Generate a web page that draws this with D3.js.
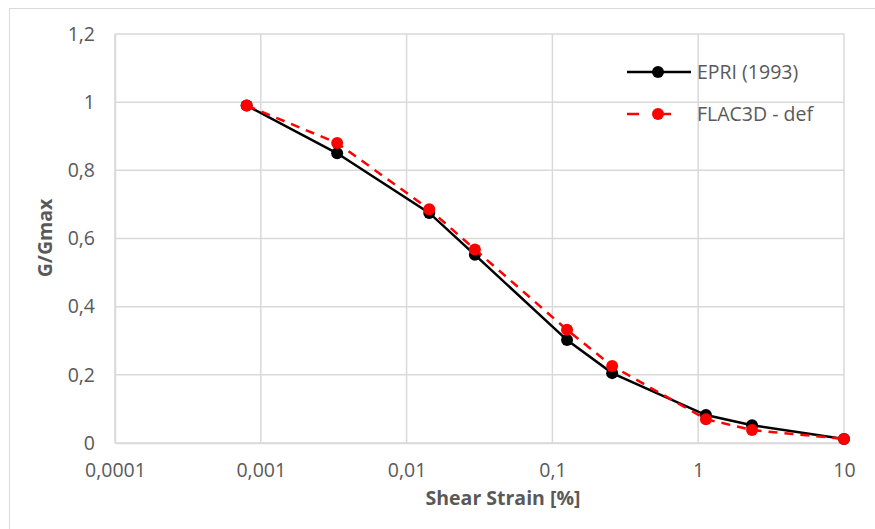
<!DOCTYPE html>
<html><head><meta charset="utf-8">
<script src="https://cdn.jsdelivr.net/npm/d3@7"></script>
<style>body{margin:0;background:#fff}svg{display:block}</style>
</head><body>
<svg id="c" width="875" height="529"></svg>
<script>
const strain = [0.0008, 0.00334, 0.0143, 0.0294, 0.126, 0.257, 1.13, 2.34, 10];
const epri   = [0.99, 0.85, 0.675, 0.552, 0.302, 0.205, 0.082, 0.052, 0.012];
const flac   = [0.99, 0.88, 0.686, 0.568, 0.332, 0.226, 0.07, 0.038, 0.012];
const xTicks = [0.0001, 0.001, 0.01, 0.1, 1, 10];
const xTickLabels = ["0,0001", "0,001", "0,01", "0,1", "1", "10"];
const yTicks = [0, 0.2, 0.4, 0.6, 0.8, 1, 1.2];
const yTickLabels = ["0", "0,2", "0,4", "0,6", "0,8", "1", "1,2"];
const seriesNames = ["EPRI (1993)", "FLAC3D - def"];

const svg = d3.select("#c");
const font = "'Open Sans', 'Liberation Sans', sans-serif";
const fs = 19.5;
const x = d3.scaleLog().domain([0.0001, 10]).range([115, 844]);
const y = d3.scaleLinear().domain([0, 1.2]).range([443, 34]);

// outer frame
svg.append("path").attr("d", "M9.5,529 L9.5,8.5 L875,8.5").attr("fill", "none").attr("stroke", "#d9d9d9").attr("stroke-width", 1);

// gridlines
const g = svg.append("g");
g.selectAll(".vx").data(xTicks).join("line")
  .attr("x1", d => x(d)).attr("x2", d => x(d)).attr("y1", y(0)).attr("y2", y(1.2))
  .attr("stroke", "#d9d9d9").attr("stroke-width", 1.5);
g.selectAll(".hy").data(yTicks).join("line")
  .attr("x1", x(0.0001)).attr("x2", x(10)).attr("y1", d => y(d)).attr("y2", d => y(d))
  .attr("stroke", "#d9d9d9").attr("stroke-width", 1.5);

// axes
const xAxis = d3.axisBottom(x).tickValues(xTicks).tickFormat((d, i) => xTickLabels[i]).tickSize(0).tickPadding(20);
const ax = svg.append("g").attr("transform", `translate(0,${y(0)})`).call(xAxis);
ax.select(".domain").attr("stroke", "#d9d9d9").attr("stroke-width", 1.5);
ax.selectAll("text").attr("font-family", font).attr("font-size", fs).attr("fill", "#595959");

const yAxis = d3.axisLeft(y).tickValues(yTicks).tickFormat((d, i) => yTickLabels[i]).tickSize(0).tickPadding(20);
const ay = svg.append("g").attr("transform", `translate(${x(0.0001)},0)`).call(yAxis);
ay.select(".domain").attr("stroke", "#d9d9d9").attr("stroke-width", 1.5);
ay.selectAll("text").attr("font-family", font).attr("font-size", fs).attr("fill", "#595959");

// axis titles
svg.append("text").attr("x", 503).attr("y", 505).attr("text-anchor", "middle")
  .attr("font-family", font).attr("font-size", fs).attr("font-weight", "bold").attr("fill", "#595959")
  .text("Shear Strain [%]");
svg.append("text").attr("transform", "translate(52,238) rotate(-90)").attr("text-anchor", "middle")
  .attr("font-family", font).attr("font-size", fs).attr("font-weight", "bold").attr("fill", "#595959")
  .text("G/Gmax");

// series
const line = d3.line().x(d => x(d[0])).y(d => y(d[1]));
const dEpri = strain.map((s, i) => [s, epri[i]]);
const dFlac = strain.map((s, i) => [s, flac[i]]);

svg.append("path").datum(dEpri).attr("d", line).attr("fill", "none").attr("stroke", "#000").attr("stroke-width", 2.5);
svg.selectAll(".pe").data(dEpri).join("circle").attr("cx", d => x(d[0])).attr("cy", d => y(d[1])).attr("r", 6).attr("fill", "#000");

svg.append("path").datum(dFlac).attr("d", line).attr("fill", "none").attr("stroke", "#ff0000").attr("stroke-width", 2.5).attr("stroke-dasharray", "9,7");
svg.selectAll(".pf").data(dFlac).join("circle").attr("cx", d => x(d[0])).attr("cy", d => y(d[1])).attr("r", 6).attr("fill", "#ff0000");

// legend
const leg = svg.append("g");
const ly = [72, 114];
leg.append("line").attr("x1", 627).attr("x2", 691).attr("y1", ly[0]).attr("y2", ly[0]).attr("stroke", "#000").attr("stroke-width", 2.5);
leg.append("circle").attr("cx", 658).attr("cy", ly[0]).attr("r", 6).attr("fill", "#000");
leg.append("line").attr("x1", 627).attr("x2", 691).attr("y1", ly[1]).attr("y2", ly[1]).attr("stroke", "#ff0000").attr("stroke-width", 2.5).attr("stroke-dasharray", "12,20");
leg.append("circle").attr("cx", 658).attr("cy", ly[1]).attr("r", 6).attr("fill", "#ff0000");
seriesNames.forEach((n, i) => {
  leg.append("text").attr("x", 697).attr("y", ly[i]).attr("dy", "0.35em")
    .attr("font-family", font).attr("font-size", fs).attr("fill", "#595959").text(n);
});
</script>
</body></html>
